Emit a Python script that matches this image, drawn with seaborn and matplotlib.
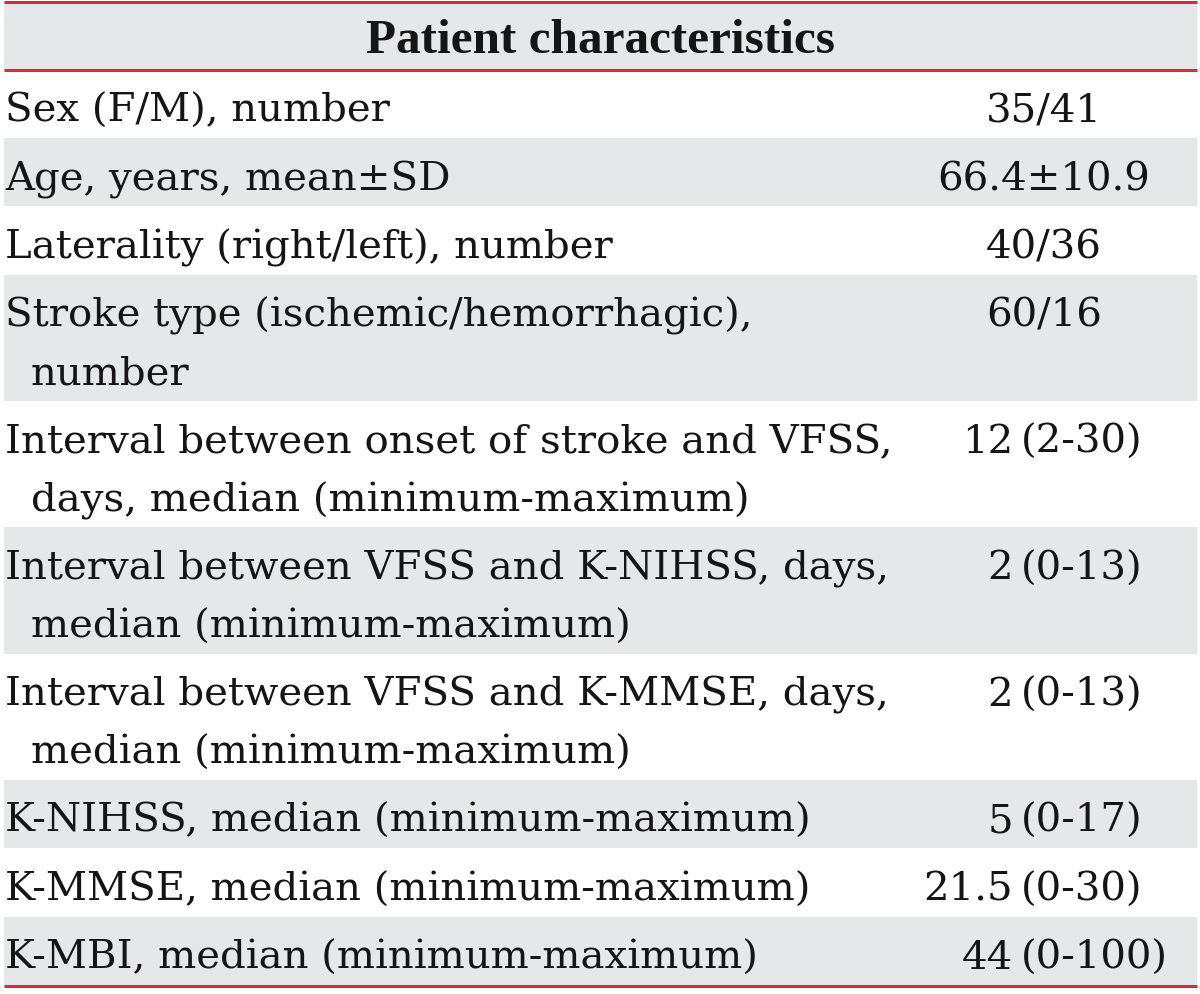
import matplotlib
matplotlib.use("Agg")
import matplotlib.pyplot as plt
import seaborn as sns

# table content
header = "Patient characteristics"
labels = [
    "Sex (F/M), number",
    "Age, years, mean\u00b1SD",
    "Laterality (right/left), number",
    "Stroke type (ischemic/hemorrhagic),\nnumber",
    "Interval between onset of stroke and VFSS,\ndays, median (minimum-maximum)",
    "Interval between VFSS and K-NIHSS, days,\nmedian (minimum-maximum)",
    "Interval between VFSS and K-MMSE, days,\nmedian (minimum-maximum)",
    "K-NIHSS, median (minimum-maximum)",
    "K-MMSE, median (minimum-maximum)",
    "K-MBI, median (minimum-maximum)",
]
values = [
    "35/41",
    "66.4\u00b110.9",
    "40/36",
    "60/16",
    "12 (2-30)",
    "2 (0-13)",
    "2 (0-13)",
    "5 (0-17)",
    "21.5 (0-30)",
    "44 (0-100)",
]

sns.set_theme(style="white")
plt.rcParams['font.family'] = ['DejaVu Serif', 'DejaVu Sans']

GRAY = "#e6e7e8"
RED = "#c9323b"
INK = "#151515"
W, H = 1200, 995
body_size = 29
line_h = 58.2
pad = 10.0

fig = plt.figure(figsize=(W / 100, H / 100), dpi=100)
ax = fig.add_axes([0, 0, 1, 1])
ax.set_xlim(0, W)
ax.set_ylim(H, 0)
ax.axis("off")

left, right = 4, 1197

# header band
top = 4
header_bottom = 71
ax.fill_between([left, right], top, header_bottom, color=GRAY, linewidth=0)
ax.text(601, top + 49, header, ha="center", va="baseline",
        fontsize=35.5, fontweight="bold", family="Liberation Serif", color=INK)

y = header_bottom
for i, (lab, val) in enumerate(zip(labels, values)):
    lines = lab.split("\n")
    h = pad + line_h * len(lines)
    if i % 2 == 1:
        ax.fill_between([left, right], y, y + h, color=GRAY, linewidth=0)
    base = y + 51
    for j, ln in enumerate(lines):
        ax.text(5 if j == 0 else 31, base + j * line_h, ln, ha="left",
                va="baseline", fontsize=body_size, color=INK)
    if " (" in val:
        num, rng = val.split(" (")
        ax.text(1013, base, num, ha="right", va="baseline",
                fontsize=body_size, color=INK)
        ax.text(1021, base, "(" + rng, ha="left", va="baseline",
                fontsize=body_size, color=INK)
    else:
        ax.text(1044, base, val, ha="center", va="baseline",
                fontsize=body_size, color=INK)
    y += h

# red rules
for yy in (3, header_bottom, y + 1):
    ax.plot([left, right], [yy, yy], color=RED, linewidth=2.2,
            solid_capstyle="butt")

fig.savefig("out.png", dpi=100)
